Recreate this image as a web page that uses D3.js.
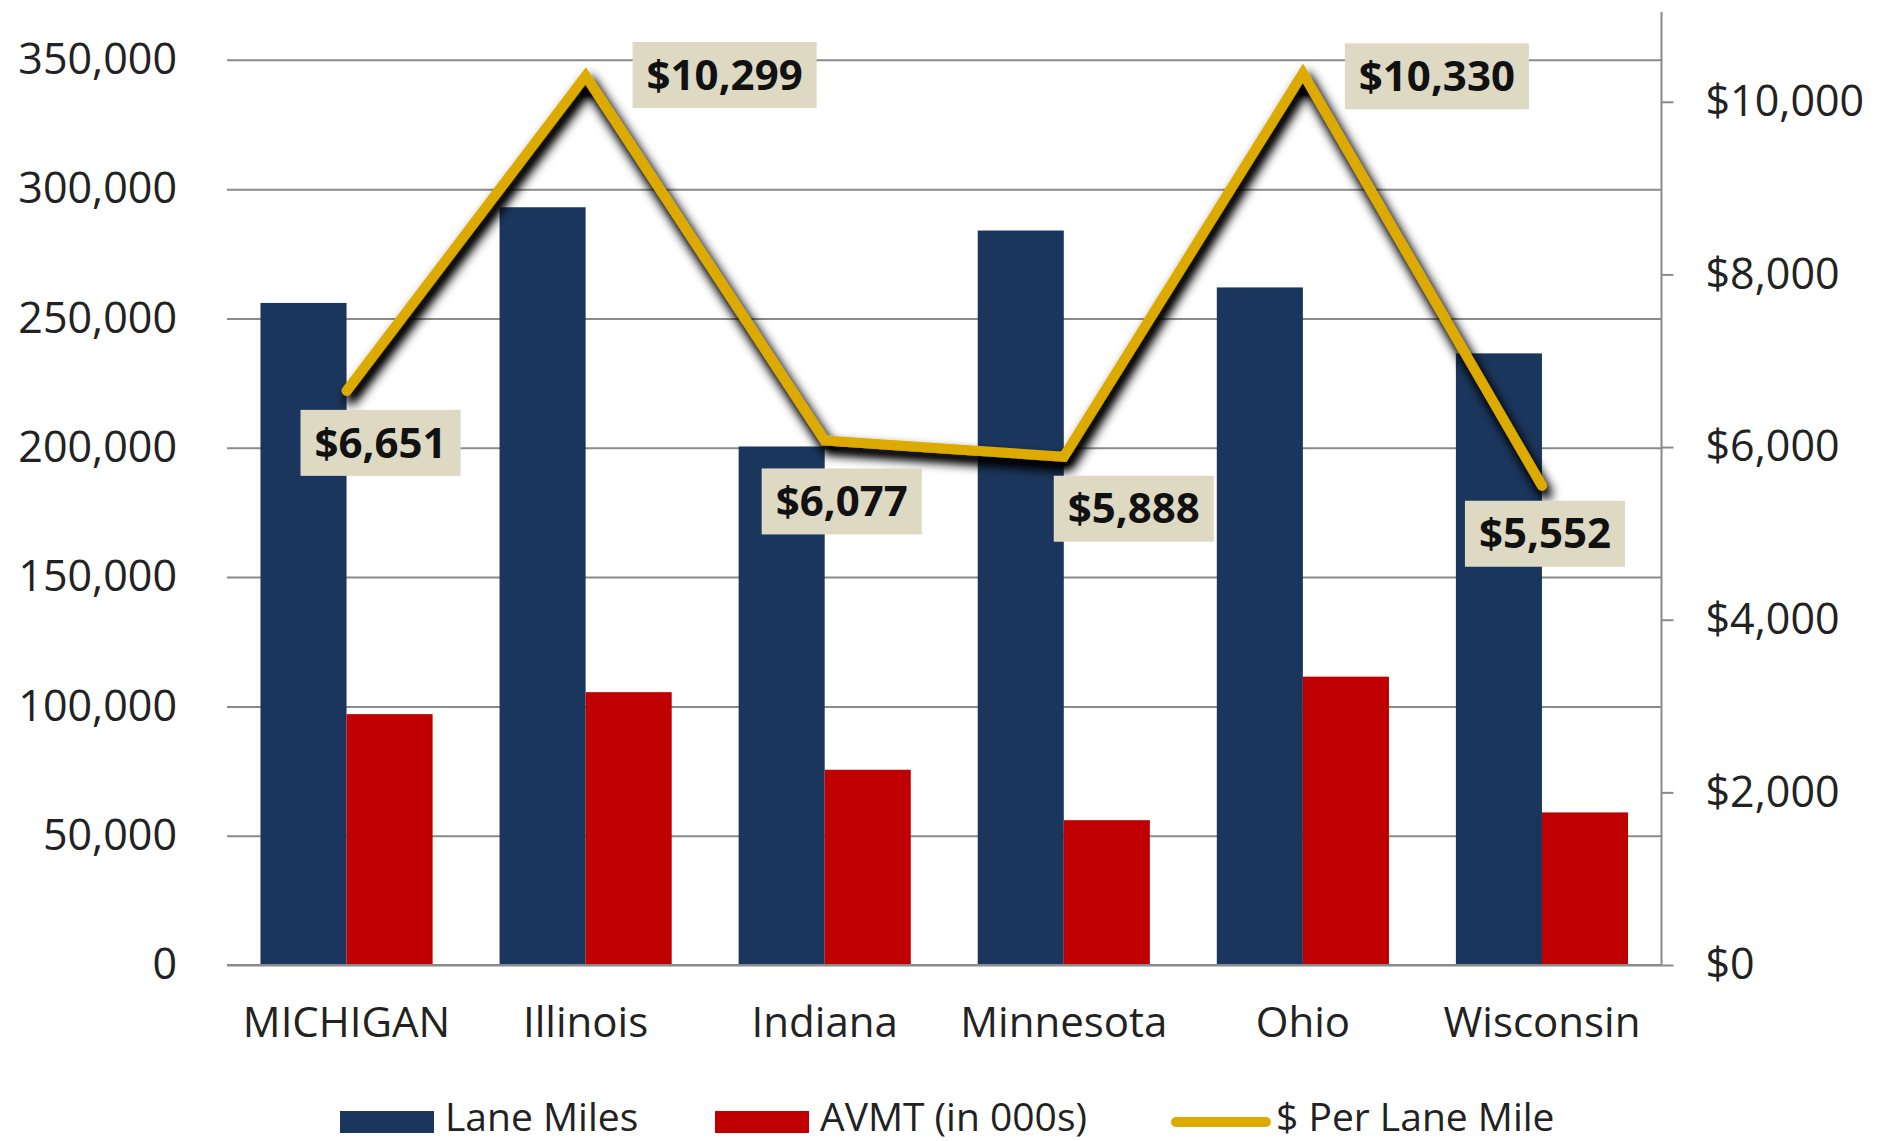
<!DOCTYPE html>
<html>
<head>
<meta charset="utf-8">
<script src="https://cdn.jsdelivr.net/npm/d3@7"></script>
<style>
  html, body { margin: 0; padding: 0; background: #ffffff; }
  svg { display: block; }
  text { font-family: "Open Sans", "Noto Sans", sans-serif; }
</style>
</head>
<body>
<svg id="chart" width="1877" height="1141"></svg>
<script>
// ---------------- data ----------------
const categories = ["MICHIGAN", "Illinois", "Indiana", "Minnesota", "Ohio", "Wisconsin"];
const laneMiles = [256000, 293000, 200500, 284000, 262000, 236500];
const avmt = [97000, 105500, 75500, 56000, 111500, 59000];
const perLaneMile = [6651, 10299, 6077, 5888, 10330, 5552];
const leftTicks = [0, 50000, 100000, 150000, 200000, 250000, 300000, 350000];
const rightTicks = [0, 2000, 4000, 6000, 8000, 10000];
const seriesNames = ["Lane Miles", "AVMT (in 000s)", "$ Per Lane Mile"];

// ---------------- layout ----------------
const W = 1877, H = 1141;
const plot = { left: 227, right: 1661.5, top: 12, bottom: 965 };
const colors = { lane: "#1B365D", avmt: "#C00000", line: "#DDAA00", grid: "#8A8A8A", box: "#DDD9C3", text: "#222222" };
// manual label placement relative to each point (dx, dy of label box centre)
const labelOffsets = [[34, 52], [139, -1], [17, 61], [70, 52], [134, 3], [3, 48]];

const svg = d3.select("#chart");
svg.append("rect").attr("width", W).attr("height", H).attr("fill", "#fff");

const x0 = d3.scaleBand().domain(categories).range([plot.left, plot.right])
  .paddingInner(0.28).paddingOuter(0.14);
const x1 = d3.scaleBand().domain(["lane", "avmt"]).range([0, x0.bandwidth()]);
const yL = d3.scaleLinear().domain([0, 368500]).range([plot.bottom, plot.top]);
const yR = d3.scaleLinear().domain([0, 11040]).range([plot.bottom, plot.top]);

// drop shadow filter for the line
const defs = svg.append("defs");
const f = defs.append("filter").attr("id", "shadow").attr("x", "-10%").attr("y", "-10%").attr("width", "120%").attr("height", "130%");
f.append("feGaussianBlur").attr("in", "SourceAlpha").attr("stdDeviation", 6).attr("result", "b");
f.append("feOffset").attr("in", "b").attr("dx", 4).attr("dy", 8).attr("result", "o");
f.append("feComponentTransfer").attr("in", "o").attr("result", "s")
  .append("feFuncA").attr("type", "linear").attr("slope", 1.5);
const fm = f.append("feMerge");
fm.append("feMergeNode").attr("in", "s");
fm.append("feMergeNode").attr("in", "SourceGraphic");

// gridlines (left axis)
const gridAxis = d3.axisLeft(yL).tickValues(leftTicks).tickSize(-(plot.right - plot.left)).tickFormat("");
const gg = svg.append("g").attr("transform", `translate(${plot.left},0)`).call(gridAxis);
gg.select(".domain").remove();
gg.selectAll(".tick line").attr("stroke", colors.grid).attr("stroke-width", 2);

// left tick labels
const leftAxis = d3.axisLeft(yL).tickValues(leftTicks).tickSize(0).tickPadding(0)
  .tickFormat(d3.format(","));
const la = svg.append("g").attr("transform", `translate(177,0)`).call(leftAxis);
la.select(".domain").remove();
la.selectAll("text").attr("font-size", 43).attr("fill", colors.text)
  .attr("font-family", "Open Sans").attr("dy", "0.32em");

// right axis
const rightAxis = d3.axisRight(yR).tickValues(rightTicks).tickSize(12).tickPadding(32)
  .tickFormat(d => "$" + d3.format(",")(d));
const ra = svg.append("g").attr("transform", `translate(${plot.right},0)`).call(rightAxis);
ra.select(".domain").attr("d", `M0,${plot.top}V${plot.bottom}`).attr("stroke", colors.grid).attr("stroke-width", 2);
ra.selectAll(".tick line").attr("stroke", colors.grid).attr("stroke-width", 2);
ra.selectAll("text").attr("font-size", 43).attr("fill", colors.text)
  .attr("font-family", "Open Sans").attr("dy", "0.32em");

// bars
const groups = svg.append("g").selectAll("g").data(categories).join("g")
  .attr("transform", d => `translate(${x0(d)},0)`);
groups.append("rect")
  .attr("x", x1("lane")).attr("width", x1.bandwidth())
  .attr("y", (d, i) => yL(laneMiles[i])).attr("height", (d, i) => yL(0) - yL(laneMiles[i]))
  .attr("fill", colors.lane);
groups.append("rect")
  .attr("x", x1("avmt")).attr("width", x1.bandwidth())
  .attr("y", (d, i) => yL(avmt[i])).attr("height", (d, i) => yL(0) - yL(avmt[i]))
  .attr("fill", colors.avmt);

// baseline
svg.append("line").attr("x1", plot.left).attr("x2", plot.right)
  .attr("y1", yL(0)).attr("y2", yL(0)).attr("stroke", colors.grid).attr("stroke-width", 2);

// category labels
const xAxis = d3.axisBottom(x0).tickSize(0).tickPadding(0);
const xa = svg.append("g").attr("transform", `translate(0,1037)`).call(xAxis);
xa.select(".domain").remove();
xa.selectAll("text").attr("font-size", 42).attr("fill", colors.text)
  .attr("font-family", "Open Sans").attr("dy", 0);

// line
const cx = c => x0(c) + x0.bandwidth() / 2;
const line = d3.line().x((d, i) => cx(categories[i])).y(d => yR(d));
svg.append("path").datum(perLaneMile).attr("d", line)
  .attr("fill", "none").attr("stroke", colors.line).attr("stroke-width", 10)
  .attr("stroke-linejoin", "miter").attr("stroke-linecap", "round")
  .attr("filter", "url(#shadow)");

// data labels
const fmt = d => "$" + d3.format(",")(d);
const lab = svg.append("g").selectAll("g").data(perLaneMile).join("g")
  .attr("transform", (d, i) => `translate(${cx(categories[i]) + labelOffsets[i][0]},${yR(d) + labelOffsets[i][1]})`);
lab.each(function(d) {
  const g = d3.select(this);
  const rect = g.append("rect").attr("fill", colors.box);
  const t = g.append("text").text(fmt(d)).attr("text-anchor", "middle")
    .attr("font-size", 42).attr("font-weight", 700).attr("fill", "#111")
    .attr("dy", "0.35em");
  const w = t.node().getComputedTextLength() + 28;
  rect.attr("x", -w / 2).attr("y", -33).attr("width", w).attr("height", 66);
});

// legend
const legend = svg.append("g");
const legItems = [
  { name: seriesNames[0], type: "rect", color: colors.lane, x: 340 },
  { name: seriesNames[1], type: "rect", color: colors.avmt, x: 715 },
  { name: seriesNames[2], type: "line", color: colors.line, x: 1171 }
];
legItems.forEach(it => {
  if (it.type === "rect") {
    legend.append("rect").attr("x", it.x).attr("y", 1111).attr("width", 94).attr("height", 22).attr("fill", it.color);
  } else {
    legend.append("line").attr("x1", it.x + 5).attr("x2", it.x + 95).attr("y1", 1122).attr("y2", 1122)
      .attr("stroke", it.color).attr("stroke-width", 10).attr("stroke-linecap", "round");
  }
  legend.append("text").attr("x", it.x + 105).attr("y", 1131).text(it.name)
    .attr("font-size", 39).attr("fill", colors.text);
});
</script>
</body>
</html>
